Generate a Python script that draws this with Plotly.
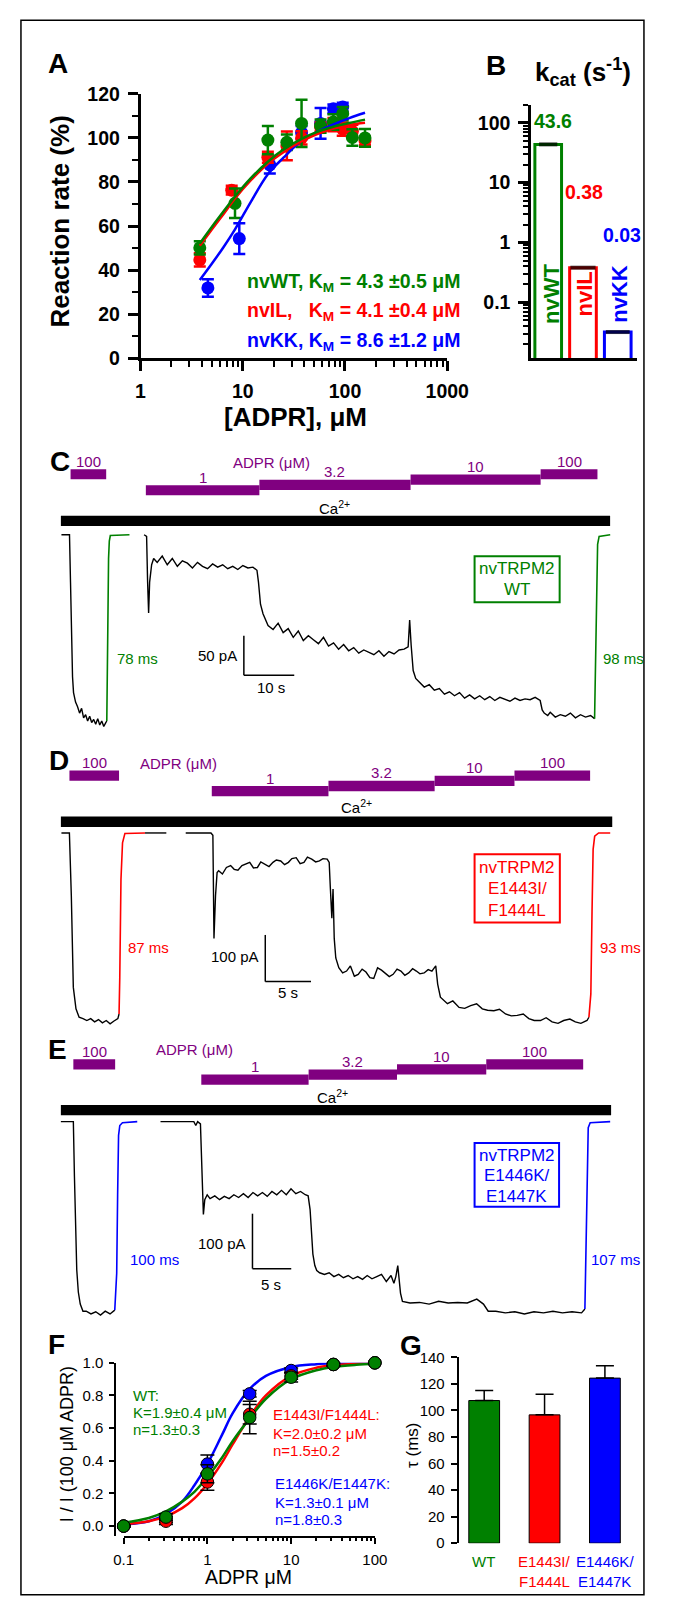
import plotly.graph_objects as go

W, H = 675, 1616
FONT = "Liberation Sans"
GREEN, RED, BLUE, PURPLE = "#008000", "#ff0000", "#0000ff", "#800080"


def fx(x):
    return x / W


def fy(y):
    return 1 - y / H


# ---------------- Panel A data ----------------
a_tickvals = [1, 10, 100, 1000]
a_x_green = [3.8, 8.4, 17.6, 27, 37.6, 57.7, 77, 95, 118, 157]
a_y_green = [50.1, 70.3, 99, 98, 106.6, 105.4, 107.2, 111, 100.2, 100]
a_e_green = [3, 6.7, 6.4, 3.5, 10.7, 3, 3.5, 3, 3.7, 4]
a_x_red = [3.8, 7.8, 17.6, 27, 37.6, 57.7, 77, 95, 118, 157]
a_y_red = [44.6, 76.3, 91.2, 96.4, 100, 105, 106, 104, 103, 98.7]
a_e_red = [3, 2, 2.5, 6.5, 3, 2, 3, 3, 3, 2]
a_x_blue = [4.56, 9.25, 18.4, 37.6, 57.7, 77, 95]
a_y_blue = [31.9, 54.3, 87.8, 102.4, 106.6, 113.2, 114]
a_e_blue = [4, 7, 4, 3, 7, 2, 2]
a_fit_x = [3.8, 5, 6.5, 8.4, 12, 17.6, 25, 37.6, 55, 77, 110, 157]
a_fit_green = [52.1, 59.7, 66.7, 73.4, 81.7, 89.2, 94.7, 99.6, 103.0, 105.1, 106.8, 108.3]
a_fit_red = [51.0, 58.5, 65.5, 72.5, 80.8, 88.3, 93.5, 98.5, 102.0, 104.3, 105.9, 106.9]
a_fit_blue = [35.5, 43.0, 50.5, 58.5, 71.0, 83.5, 91.0, 98.7, 103.0, 106.1, 109.0, 111.4]
a_legend = ["nvWT, K<sub>M</sub> = 4.3 \u00b10.5 \u03bcM",
            "nvIL,   K<sub>M</sub> = 4.1 \u00b10.4 \u03bcM",
            "nvKK, K<sub>M</sub> = 8.6 \u00b11.2 \u03bcM"]

# ---------------- Panel B data ----------------
b_names = ["nvWT", "nvIL", "nvKK"]
b_kcat = [43.6, 0.38, 0.032]
b_labels = ["43.6", "0.38", "0.03"]
b_tickvals = [0.1, 1, 10, 100]
b_ticktext = ["0.1", "1", "10", "100"]

# ---------------- Panel C data (time s, current pA) ----------------
c_trace1 = [(0, 0), (1.6, 0), (1.8, -60), (2.0, -130), (2.2, -180), (2.4, -200), (2.8, -212),
            (3.2, -218), (3.6, -226), (4.0, -220), (4.4, -232), (4.8, -228), (5.2, -236),
            (5.6, -230), (6.0, -238), (6.4, -234), (6.8, -240), (7.2, -233), (7.6, -241),
            (8.0, -236), (8.4, -243), (8.8, -238), (9.0, -236)]
c_fit1 = [(9.0, -236), (9.1, -200), (9.2, -120), (9.35, -30), (9.5, -8), (9.7, -1), (13.5, 0)]
c_trace2 = [(16.4, 0), (16.9, -2), (17.1, -60), (17.3, -99), (17.5, -60), (17.9, -38), (18.3, -30),
            (19, -35), (20, -27), (21, -38), (22, -30), (23, -40), (24, -33), (25, -36), (26, -42),
            (27, -35), (28, -40), (29, -43), (30, -37), (31, -41), (32, -38), (33, -43), (34, -40),
            (35, -44), (36, -39), (37, -42), (38, -41), (38.8, -45), (39.1, -60), (39.5, -88),
            (40, -100), (40.5, -108), (41, -115), (42, -120), (43, -112), (44, -124), (45, -119),
            (46, -130), (47, -122), (48, -134), (49, -128), (50, -133), (51, -138), (52, -130),
            (53, -141), (54, -137), (55, -145), (56, -139), (57, -147), (58, -143), (59, -150),
            (60, -146), (61, -149), (62, -152), (63, -147), (64, -154), (65, -148), (66, -151),
            (67, -146), (68, -145), (68.8, -142), (69.1, -108), (69.4, -140), (69.8, -172),
            (70.3, -182), (71, -187), (72, -193), (73, -190), (74, -197), (75, -195), (76, -202),
            (77, -199), (78, -204), (79, -200), (80, -207), (81, -203), (82, -208), (83, -204),
            (84, -209), (85, -205), (86, -210), (87, -206), (88, -209), (89, -211), (90, -207),
            (91, -210), (92, -208), (93, -209), (94, -206), (95, -210), (95.4, -222), (95.8, -226),
            (96.5, -229), (97, -225), (98, -231), (99, -228), (100, -230), (101, -226), (102, -232),
            (103, -228), (104, -231), (105, -229), (105.8, -233)]
c_fit2 = [(105.8, -233), (106.0, -150), (106.2, -50), (106.4, -12), (106.7, -2), (108.9, 0)]
c_adpr_start = [1.81, 16.75, 39.28, 69.28, 95.09]
c_adpr_end = [8.88, 39.28, 69.28, 95.09, 106.37]
c_adpr_conc = ["100", "1", "3.2", "10", "100"]
c_ca = [-0.11, 108.88]
c_scale = [10, 50]          # s, pA
c_tau = ["78 ms", "98 ms"]

# ---------------- Panel D data ----------------
d_trace1 = [(0, 0), (0.87, 0), (1.08, -134), (1.3, -331), (1.59, -377), (1.93, -395), (2.36, -398),
            (2.78, -402), (3.2, -398), (3.63, -405), (4.05, -400), (4.48, -407), (4.9, -402),
            (5.32, -409), (5.75, -403), (6.17, -398), (6.3, -388)]
d_fit1 = [(6.3, -388), (6.38, -310), (6.51, -99), (6.68, -21), (6.94, -1), (9.14, 0)]
d_tail1 = [(9.14, 0), (11.47, 0)]
d_trace2 = [(13.59, 0), (16.35, 0), (16.56, -5), (16.68, -226), (16.85, -134), (17.02, -85),
            (17.19, -81), (17.6, -88), (18.04, -74), (18.5, -70), (18.89, -78), (19.3, -80),
            (19.74, -70), (20.2, -66), (20.59, -63), (21.0, -75), (21.43, -74), (21.8, -62),
            (22.28, -67), (22.7, -72), (23.13, -63), (23.5, -58), (23.98, -60), (24.4, -68),
            (24.82, -63), (25.2, -55), (25.67, -53), (26.1, -66), (26.52, -63), (26.9, -52),
            (27.37, -56), (27.8, -62), (28.21, -60), (28.6, -55), (29.06, -56), (29.28, -63),
            (29.40, -116), (29.57, -183), (29.70, -120), (29.83, -226), (30.0, -268), (30.33, -289),
            (30.75, -300), (31.18, -296), (31.6, -285), (32.03, -307), (32.45, -303), (32.88, -292),
            (33.3, -298), (33.73, -310), (34.15, -312), (34.57, -289), (35.0, -294), (35.42, -300),
            (35.85, -308), (36.27, -303), (36.7, -292), (37.12, -296), (37.55, -305), (37.97, -300),
            (38.4, -291), (38.81, -296), (39.2, -302), (39.66, -300), (40.1, -293), (40.51, -296),
            (40.93, -285), (41.14, -324), (41.44, -352), (42.21, -366), (42.8, -360), (43.48, -374),
            (44.1, -376), (44.75, -370), (45.4, -366), (46.02, -377), (46.6, -380), (47.29, -381),
            (47.9, -378), (48.56, -388), (49.2, -392), (49.84, -391), (50.5, -388), (51.11, -398),
            (51.7, -402), (52.38, -402), (53.0, -396), (53.65, -405), (54.3, -408), (54.92, -402),
            (55.6, -399), (56.19, -405), (56.8, -408), (57.47, -402), (57.68, -395)]
d_fit2 = [(57.68, -395), (57.89, -345), (58.02, -169), (58.14, -35), (58.31, -7), (58.74, 0), (60.01, 0)]
d_adpr_start = [0.875, 16.44, 29.2, 40.81, 49.54]
d_adpr_end = [6.30, 29.2, 40.81, 49.54, 57.81]
d_adpr_conc = ["100", "1", "3.2", "10", "100"]
d_ca = [-0.06, 60.23]
d_scale = [5, 100]
d_tau = ["87 ms", "93 ms"]

# ---------------- Panel E data ----------------
e_trace1 = [(0, 0), (1.61, 0), (1.75, -100), (1.9, -200), (2.05, -270), (2.25, -310), (2.5, -332),
            (2.85, -345), (3.27, -345), (3.88, -350), (4.5, -346), (5.11, -352), (5.72, -345),
            (6.34, -350), (6.95, -343)]
e_fit1 = [(6.95, -343), (7.2, -276), (7.32, -133), (7.44, -25), (7.6, -7), (7.94, -2), (9.85, 0)]
e_trace2 = [(12.85, 0), (17.15, 0), (17.4, -7), (17.64, 0), (18.0, -4), (18.19, -97), (18.38, -169),
            (18.56, -142), (18.87, -133), (19.24, -140), (19.85, -135), (20.47, -142), (21.08, -136),
            (21.7, -140), (22.31, -133), (22.92, -138), (23.54, -131), (24.15, -138), (24.77, -129),
            (25.38, -135), (25.99, -129), (26.61, -136), (27.22, -127), (27.84, -133), (28.45, -125),
            (29.07, -133), (29.68, -122), (30.3, -131), (30.91, -127), (31.52, -133), (31.89, -135),
            (32.14, -160), (32.32, -196), (32.5, -241), (32.75, -262), (33.0, -271), (33.37, -275),
            (33.99, -278), (34.6, -275), (35.21, -282), (35.83, -278), (36.44, -284), (37.05, -280),
            (37.67, -286), (38.28, -282), (38.9, -287), (39.51, -280), (40.12, -286), (40.74, -282),
            (41.35, -278), (41.97, -291), (42.58, -280), (42.95, -294), (43.2, -282), (43.45, -262),
            (43.62, -284), (43.8, -312), (44.05, -327), (45.03, -330), (46.26, -329), (47.49, -332),
            (48.72, -327), (49.95, -330), (51.18, -329), (52.41, -330), (53.64, -323), (54.5, -332),
            (55.11, -345), (56.09, -345), (57.32, -348), (58.55, -346), (59.78, -350), (61.01, -346),
            (62.24, -348), (63.46, -345), (64.69, -348), (65.92, -346), (67.15, -348), (67.58, -341)]
e_fit2 = [(67.58, -341), (67.64, -294), (67.76, -169), (67.89, -43), (68.01, -11), (68.26, -2), (70.84, 0)]
e_adpr_start = [1.61, 18.11, 31.95, 43.35, 54.86]
e_adpr_end = [7.0, 31.95, 43.35, 54.86, 67.36]
e_adpr_conc = ["100", "1", "3.2", "10", "100"]
e_ca = [0, 70.96]
e_scale = [5, 100]
e_tau = ["100 ms", "107 ms"]

# ---------------- Panel F data ----------------
f_x = [0.1, 0.32, 1, 3.2, 10, 32, 100]
f_green = [0.0, 0.055, 0.32, 0.665, 0.912, 0.99, 1.0]
f_red = [0.0, 0.03, 0.27, 0.685, 0.92, 0.99, 1.0]
f_blue = [0.0, 0.04, 0.38, 0.81, 0.953, 0.99, 1.0]
f_green_e = [0.005, 0.02, 0.055, 0.1, 0.03, 0.01, 0.0]
f_red_e = [0.005, 0.02, 0.05, 0.06, 0.02, 0.01, 0.0]
f_blue_e = [0.005, 0.02, 0.055, 0.02, 0.015, 0.01, 0.0]
f_fit_x = [0.1, 0.2, 0.32, 0.5, 0.7, 1, 1.5, 2, 3.2, 5, 10, 20, 32, 60, 100]
f_fit_green = [0.02, 0.05, 0.09, 0.15, 0.21, 0.30, 0.42, 0.52, 0.66, 0.78, 0.90, 0.955, 0.975, 0.988, 0.994]
f_fit_red = [0.011, 0.03, 0.06, 0.11, 0.17, 0.26, 0.39, 0.50, 0.67, 0.80, 0.92, 0.97, 0.985, 0.995, 0.997]
f_fit_blue = [0.01, 0.03, 0.074, 0.15, 0.25, 0.38, 0.56, 0.69, 0.84, 0.92, 0.975, 0.992, 0.997, 0.999, 1.0]
f_yticks = [0.0, 0.2, 0.4, 0.6, 0.8, 1.0]
f_xticks = [0.1, 1, 10, 100]

# ---------------- Panel G data ----------------
g_names = ["WT", "E1443I/F1444L", "E1446K/E1447K"]
g_tau = [107.5, 96.7, 124.4]
g_err = [7.5, 15.6, 9.4]

fig = go.Figure()
shapes = []
anns = []


def text(t, x, y, size=15, color="black", bold=False, xanchor="center", angle=0,
         xref="paper", yref="paper"):
    anns.append(dict(text=t, x=fx(x) if xref == "paper" else x, y=fy(y) if yref == "paper" else y,
                     xref=xref, yref=yref, showarrow=False, xanchor=xanchor, yanchor="middle",
                     textangle=angle,
                     font=dict(family=FONT, size=size, color=color,
                               weight="bold" if bold else "normal")))


def add_pairs(pairs, color, xa, ya, width=1.4):
    fig.add_trace(go.Scatter(x=[p[0] for p in pairs], y=[p[1] for p in pairs], mode="lines",
                             line=dict(color=color, width=width), xaxis=xa, yaxis=ya,
                             hoverinfo="skip", showlegend=False))


# ---------- Panel A traces ----------
for xs, ys, es, col in [(a_x_blue, a_y_blue, a_e_blue, BLUE), (a_x_red, a_y_red, a_e_red, RED),
                        (a_x_green, a_y_green, a_e_green, GREEN)]:
    fig.add_trace(go.Scatter(x=xs, y=ys, mode="markers", xaxis="x", yaxis="y",
                             marker=dict(color=col, size=13),
                             error_y=dict(type="data", array=es, color=col, thickness=2.5, width=6),
                             cliponaxis=False, showlegend=False))
for ys, col in [(a_fit_blue, BLUE), (a_fit_red, RED), (a_fit_green, GREEN)]:
    fig.add_trace(go.Scatter(x=a_fit_x, y=ys, mode="lines", line=dict(color=col, width=2.5, shape="spline"),
                             xaxis="x", yaxis="y", showlegend=False))

text("A", 50, 53, 28, bold=True)
text("Reaction rate (%)", 53, 213, 26, bold=True, angle=-90)
text("[ADPR], \u03bcM", 300, 412, 26, bold=True)
for t, yy, col in zip(a_legend, [275, 305, 335], [GREEN, RED, BLUE]):
    text(t, 247, yy, 19.5, col, bold=True, xanchor="left")

# ---------- Panel B ----------
fig.add_trace(go.Bar(x=b_names, y=b_kcat, width=0.767, xaxis="x2", yaxis="y2",
                     marker=dict(color="white", line=dict(color=[GREEN, RED, BLUE], width=3)),
                     showlegend=False))
fig.add_trace(go.Scatter(x=b_names, y=b_kcat, mode="markers", xaxis="x2", yaxis="y2",
                         marker=dict(symbol="line-ew", size=[13, 18, 17], color="black",
                                     line=dict(width=4, color="black")),
                         cliponaxis=False, showlegend=False))
text("B", 510, 55, 28, bold=True)
text("k<sub>cat</sub> (s<sup>-1</sup>)", 602, 62, 26, bold=True)
for lab, xx, yy, col in zip(b_labels, [570, 603, 642], [112, 184, 227], [GREEN, RED, BLUE]):
    text(lab, xx, yy, 19.5, col, bold=True)
for nm, xx, col in zip(b_names, [567.7, 603, 639], [GREEN, RED, BLUE]):
    text(nm, xx, 287, 22, col, bold=True, angle=-90)

# ---------- Panels C, D, E ----------
LEVEL = {"1": 0, "3.2": 1, "10": 2, "100": 3}


def trace_panel(n, blacks, fits, col, starts, ends, concs, ca, top0, step, barh, ca_top,
                ca_label, letter_xy, adpr_xy, box, tau_pos, scale, scale_corner, scale_labels, box_lines):
    xa, ya = "x%d" % n, "y%d" % n
    for b in blacks:
        add_pairs(b, "black", xa, ya, 1.4)
    for f in fits:
        add_pairs(f, col, xa, ya, 1.6)
    for s, e, c in zip(starts, ends, concs):
        top = top0 - step * LEVEL[c]
        shapes.append(dict(type="rect", xref=xa, yref="paper", x0=s, x1=e, y0=fy(top + barh),
                           y1=fy(top), fillcolor=PURPLE, line=dict(width=0)))
        text(c, (s + e) / 2, top - 8, 15, PURPLE, xref=xa)
    shapes.append(dict(type="rect", xref=xa, yref="paper", x0=ca[0], x1=ca[1], y0=fy(ca_top + 10.5),
                       y1=fy(ca_top), fillcolor="black", line=dict(width=0)))
    text("Ca<sup>2+</sup>", ca_label[0], ca_label[1], 15)
    text(letter_xy[0], letter_xy[1], letter_xy[2], 28, bold=True)
    text("ADPR (\u03bcM)", adpr_xy[0], adpr_xy[1], 15, PURPLE)
    shapes.append(dict(type="rect", xref="paper", yref="paper", x0=fx(box[0]), x1=fx(box[2]),
                       y0=fy(box[3]), y1=fy(box[1]), line=dict(color=col, width=2)))
    for ln, yy in box_lines:
        text(ln, (box[0] + box[2]) / 2, yy, 17, col)
    text(tau_pos[0][0], tau_pos[0][1], tau_pos[0][2], 15, col, xanchor="left")
    text(tau_pos[1][0], tau_pos[1][1], tau_pos[1][2], 15, col, xanchor="left")
    cx, cy = scale_corner
    shapes.append(dict(type="line", xref=xa, yref=ya, x0=cx, x1=cx, y0=cy, y1=cy + scale[1],
                       line=dict(color="black", width=1.5)))
    shapes.append(dict(type="line", xref=xa, yref=ya, x0=cx, x1=cx + scale[0], y0=cy, y1=cy,
                       line=dict(color="black", width=1.5)))
    (pa_txt, pa_x, pa_y), (s_txt, s_x, s_y) = scale_labels
    text(pa_txt, pa_x, pa_y, 15, xanchor="right")
    text(s_txt, s_x, s_y, 15)


trace_panel(3, [c_trace1, c_trace2], [c_fit1, c_fit2], GREEN, c_adpr_start, c_adpr_end, c_adpr_conc,
            c_ca, 480.7, 5.4, 10.3, 511.7, (341, 503), ("C", 52, 457), (274, 457.7),
            (487.7, 552.7, 577, 599.3), ((c_tau[0], 110, 656.7), (c_tau[1], 620, 656.7)),
            c_scale, (36.2, -178), (("%d pA" % c_scale[1], 240, 653.3), ("%d s" % c_scale[0], 274, 685.7)),
            [("nvTRPM2", 565), ("WT", 586)])
trace_panel(4, [d_trace1, d_tail1, d_trace2], [d_fit1, d_fit2], RED, d_adpr_start, d_adpr_end,
            d_adpr_conc, d_ca, 785.7, 5.2, 10.4, 816.7, (363.6, 806), ("D", 51.4, 760), (177, 763.3),
            (487.7, 855, 577.2, 924), ((d_tau[0], 121.4, 949.3), (d_tau[1], 617, 949.3)),
            d_scale, (22.29, -318.6), (("%d pA" % d_scale[1], 263, 958.3), ("%d s" % d_scale[0], 291.5, 995)),
            [("nvTRPM2", 868), ("E1443I/", 890), ("F1444L", 912)])
trace_panel(5, [e_trace1, e_trace2], [e_fit1, e_fit2], BLUE, e_adpr_start, e_adpr_end, e_adpr_conc,
            e_ca, 1078.3, 5.2, 10.3, 1109, (339, 1100), ("E", 50, 1053.3), (193.8, 1053.3),
            (487.7, 1147.7, 576.4, 1212.3), ((e_tau[0], 123.4, 1265.7), (e_tau[1], 607.8, 1265.7)),
            e_scale, (24.71, -267.5), (("%d pA" % e_scale[1], 249.6, 1250), ("%d s" % e_scale[0], 274, 1290.7)),
            [("nvTRPM2", 1160), ("E1446K/", 1181), ("E1447K", 1201.7)])

# ---------- Panel F ----------
for ys, col in [(f_fit_blue, BLUE), (f_fit_red, RED), (f_fit_green, GREEN)]:
    fig.add_trace(go.Scatter(x=f_fit_x, y=ys, mode="lines", line=dict(color=col, width=2.5, shape="spline"),
                             xaxis="x6", yaxis="y6", cliponaxis=False, showlegend=False))
for ys, es, col in [(f_blue, f_blue_e, BLUE), (f_red, f_red_e, RED), (f_green, f_green_e, GREEN)]:
    fig.add_trace(go.Scatter(x=f_x, y=ys, mode="markers", xaxis="x6", yaxis="y6",
                             marker=dict(color=col, size=12.5, line=dict(color="black", width=1)),
                             error_y=dict(type="data", array=es, color="black", thickness=1.5, width=7),
                             cliponaxis=False, showlegend=False))
text("F", 49, 1352, 28, bold=True)
text("I / I (100 \u03bcM ADPR)", 60, 1453, 18, angle=-90)
text("ADPR \u03bcM", 250, 1588, 19.5)
for ln, yy in [("WT:", 1403.3), ("K=1.9\u00b10.4 \u03bcM", 1421), ("n=1.3\u00b10.3", 1438.5)]:
    text(ln, 126.7, yy, 15, GREEN, xanchor="left")
for ln, yy in [("E1443I/F1444L:", 1423.3), ("K=2.0\u00b10.2 \u03bcM", 1441.7), ("n=1.5\u00b10.2", 1459.3)]:
    text(ln, 274.3, yy, 15, RED, xanchor="left")
for ln, yy in [("E1446K/E1447K:", 1493.3), ("K=1.3\u00b10.1 \u03bcM", 1511.7), ("n=1.8\u00b10.3", 1529.3)]:
    text(ln, 276, yy, 15, BLUE, xanchor="left")

# ---------- Panel G ----------
fig.add_trace(go.Bar(x=g_names, y=g_tau, width=0.51, xaxis="x7", yaxis="y7",
                     marker=dict(color=[GREEN, RED, BLUE], line=dict(color="black", width=1)),
                     error_y=dict(type="data", array=g_err, arrayminus=[0, 0, 0], symmetric=False,
                                  color="black", thickness=1.5, width=9),
                     showlegend=False))
text("G", 420.5, 1352.7, 28, bold=True)
text("\u03c4 (ms)", 421.7, 1454, 17, angle=-90)
for nm, xx, col in zip(g_names, [497.3, 560.8, 624.5], [GREEN, RED, BLUE]):
    parts = nm.split("/")
    if len(parts) == 1:
        text(parts[0], xx, 1571.7, 15, col)
    else:
        text(parts[0] + "/", xx, 1571.7, 15, col)
        text(parts[1], xx, 1591.7, 15, col)

# figure frame
shapes.append(dict(type="rect", xref="paper", yref="paper", x0=fx(11.5), x1=fx(665.5),
                   y0=fy(1605.5), y1=fy(9.5), line=dict(color="black", width=1.5)))

tf_bold = dict(family=FONT, size=19.5, color="black", weight="bold")
tf_norm = dict(family=FONT, size=15, color="black")
hidden = dict(visible=False, domain=[0, 1], showgrid=False, zeroline=False)


def log_minor(decades):
    return [m * 10 ** d for d in decades for m in range(2, 10)]


fig.update_layout(
    width=W, height=H, margin=dict(l=0, r=0, t=0, b=0), autosize=False,
    paper_bgcolor="white", plot_bgcolor="rgba(0,0,0,0)", showlegend=False,
    font=dict(family=FONT, color="black"),
    xaxis=dict(type="log", range=[0, 3], domain=[fx(137), fx(459)], anchor="y", showline=True,
               linecolor="black", linewidth=2.5, ticks="outside", ticklen=10, tickwidth=2.5,
               tickcolor="black", tickvals=a_tickvals, ticktext=[str(v) for v in a_tickvals],
               tickfont=tf_bold, showgrid=False, zeroline=False, ticklabelstandoff=4,
               minor=dict(tickvals=log_minor([0, 1, 2]), ticks="outside", ticklen=6, tickwidth=2,
                          tickcolor="black", showgrid=False)),
    yaxis=dict(range=[0, 120], domain=[fy(352), fy(84)], anchor="x", showline=True, linecolor="black",
               linewidth=2.5, ticks="outside", ticklen=10, tickwidth=2.5, tickcolor="black",
               dtick=20, tick0=0, tickfont=tf_bold, showgrid=False, zeroline=False, ticklabelstandoff=4,
               minor=dict(dtick=10, tick0=0, ticks="outside", ticklen=6, tickwidth=2, tickcolor="black",
                          showgrid=False)),
    xaxis2=dict(type="category", domain=[fx(547), fx(658)], anchor="y2", range=[-0.493, 2.548],
                showline=True, linecolor="black", linewidth=2.5, ticks="", showticklabels=False,
                showgrid=False, zeroline=False),
    yaxis2=dict(type="log", range=[-1.932, 2.302], domain=[fy(352), fy(95)], anchor="x2", showline=True,
                linecolor="black", linewidth=2.5, ticks="outside", ticklen=10, tickwidth=2.5,
                tickcolor="black", tickvals=b_tickvals, ticktext=b_ticktext, tickfont=tf_bold,
                showgrid=False, zeroline=False, ticklabelstandoff=4,
                minor=dict(tickvals=log_minor([-2, -1, 0, 1]) + [200], ticks="outside", ticklen=5,
                           tickwidth=1.5, tickcolor="black", showgrid=False)),
    xaxis3=dict(hidden, range=[-54 / 5.29, 621 / 5.29], anchor="y3"),
    yaxis3=dict(hidden, range=[-(1616 - 531) / 0.8, 531 / 0.8], anchor="x3"),
    xaxis4=dict(hidden, range=[-54 / 9.6, 621 / 9.6], anchor="y4"),
    yaxis4=dict(hidden, range=[-(1616 - 833.3) / 0.473, 833.3 / 0.473], anchor="x4"),
    xaxis5=dict(hidden, range=[-53.4 / 8.14, (675 - 53.4) / 8.14], anchor="y5"),
    yaxis5=dict(hidden, range=[-(1616 - 1126) / 0.557, 1126 / 0.557], anchor="x5"),
    xaxis6=dict(type="log", domain=[fx(119.3), fx(383.3)], range=[-1, 2.003], anchor="y6", showline=True,
                linecolor="black", linewidth=2, ticks="outside", ticklen=6, tickwidth=2, tickcolor="black",
                tickvals=f_xticks, ticktext=["0.1", "1", "10", "100"], tickfont=tf_norm,
                showgrid=False, zeroline=False, ticklabelstandoff=3,
                minor=dict(tickvals=log_minor([-1, 0, 1]), ticks="outside", ticklen=3.5, tickwidth=1.5,
                           tickcolor="black", showgrid=False)),
    yaxis6=dict(domain=[fy(1546), fy(1370.5)], range=[-0.0604, 1.0], anchor="free", position=fx(110.7),
                showline=True, linecolor="black", linewidth=2, ticks="outside", ticklen=5, tickwidth=2,
                tickcolor="black", tickvals=f_yticks, ticktext=["%.1f" % v for v in f_yticks],
                tickfont=tf_norm, showgrid=False, zeroline=False, ticklabelstandoff=3),
    xaxis7=dict(type="category", domain=[fx(471), fx(660)], range=[-0.423, 2.56], anchor="y7",
                showline=False, ticks="", showticklabels=False, showgrid=False, zeroline=False),
    yaxis7=dict(domain=[fy(1553.3), fy(1365)], range=[0, 140], anchor="x7", showline=True,
                linecolor="black", linewidth=2, ticks="outside", ticklen=6, tickwidth=2, tickcolor="black",
                dtick=20, tick0=0, tickfont=tf_norm, showgrid=False, zeroline=False, ticklabelstandoff=3),
    shapes=shapes, annotations=anns,
)

# place the figure flush with the page corner so it is photographed 1:1
POST = ("document.documentElement.style.margin='0';document.body.style.margin='0';"
        "document.body.style.padding='0';document.documentElement.style.overflow='hidden';"
        "var gd=document.getElementById('{plot_id}');gd.style.position='absolute';"
        "gd.style.left='0px';gd.style.top='0px';")
fig.write_html("out.html", post_script=POST, config={"displayModeBar": False})
